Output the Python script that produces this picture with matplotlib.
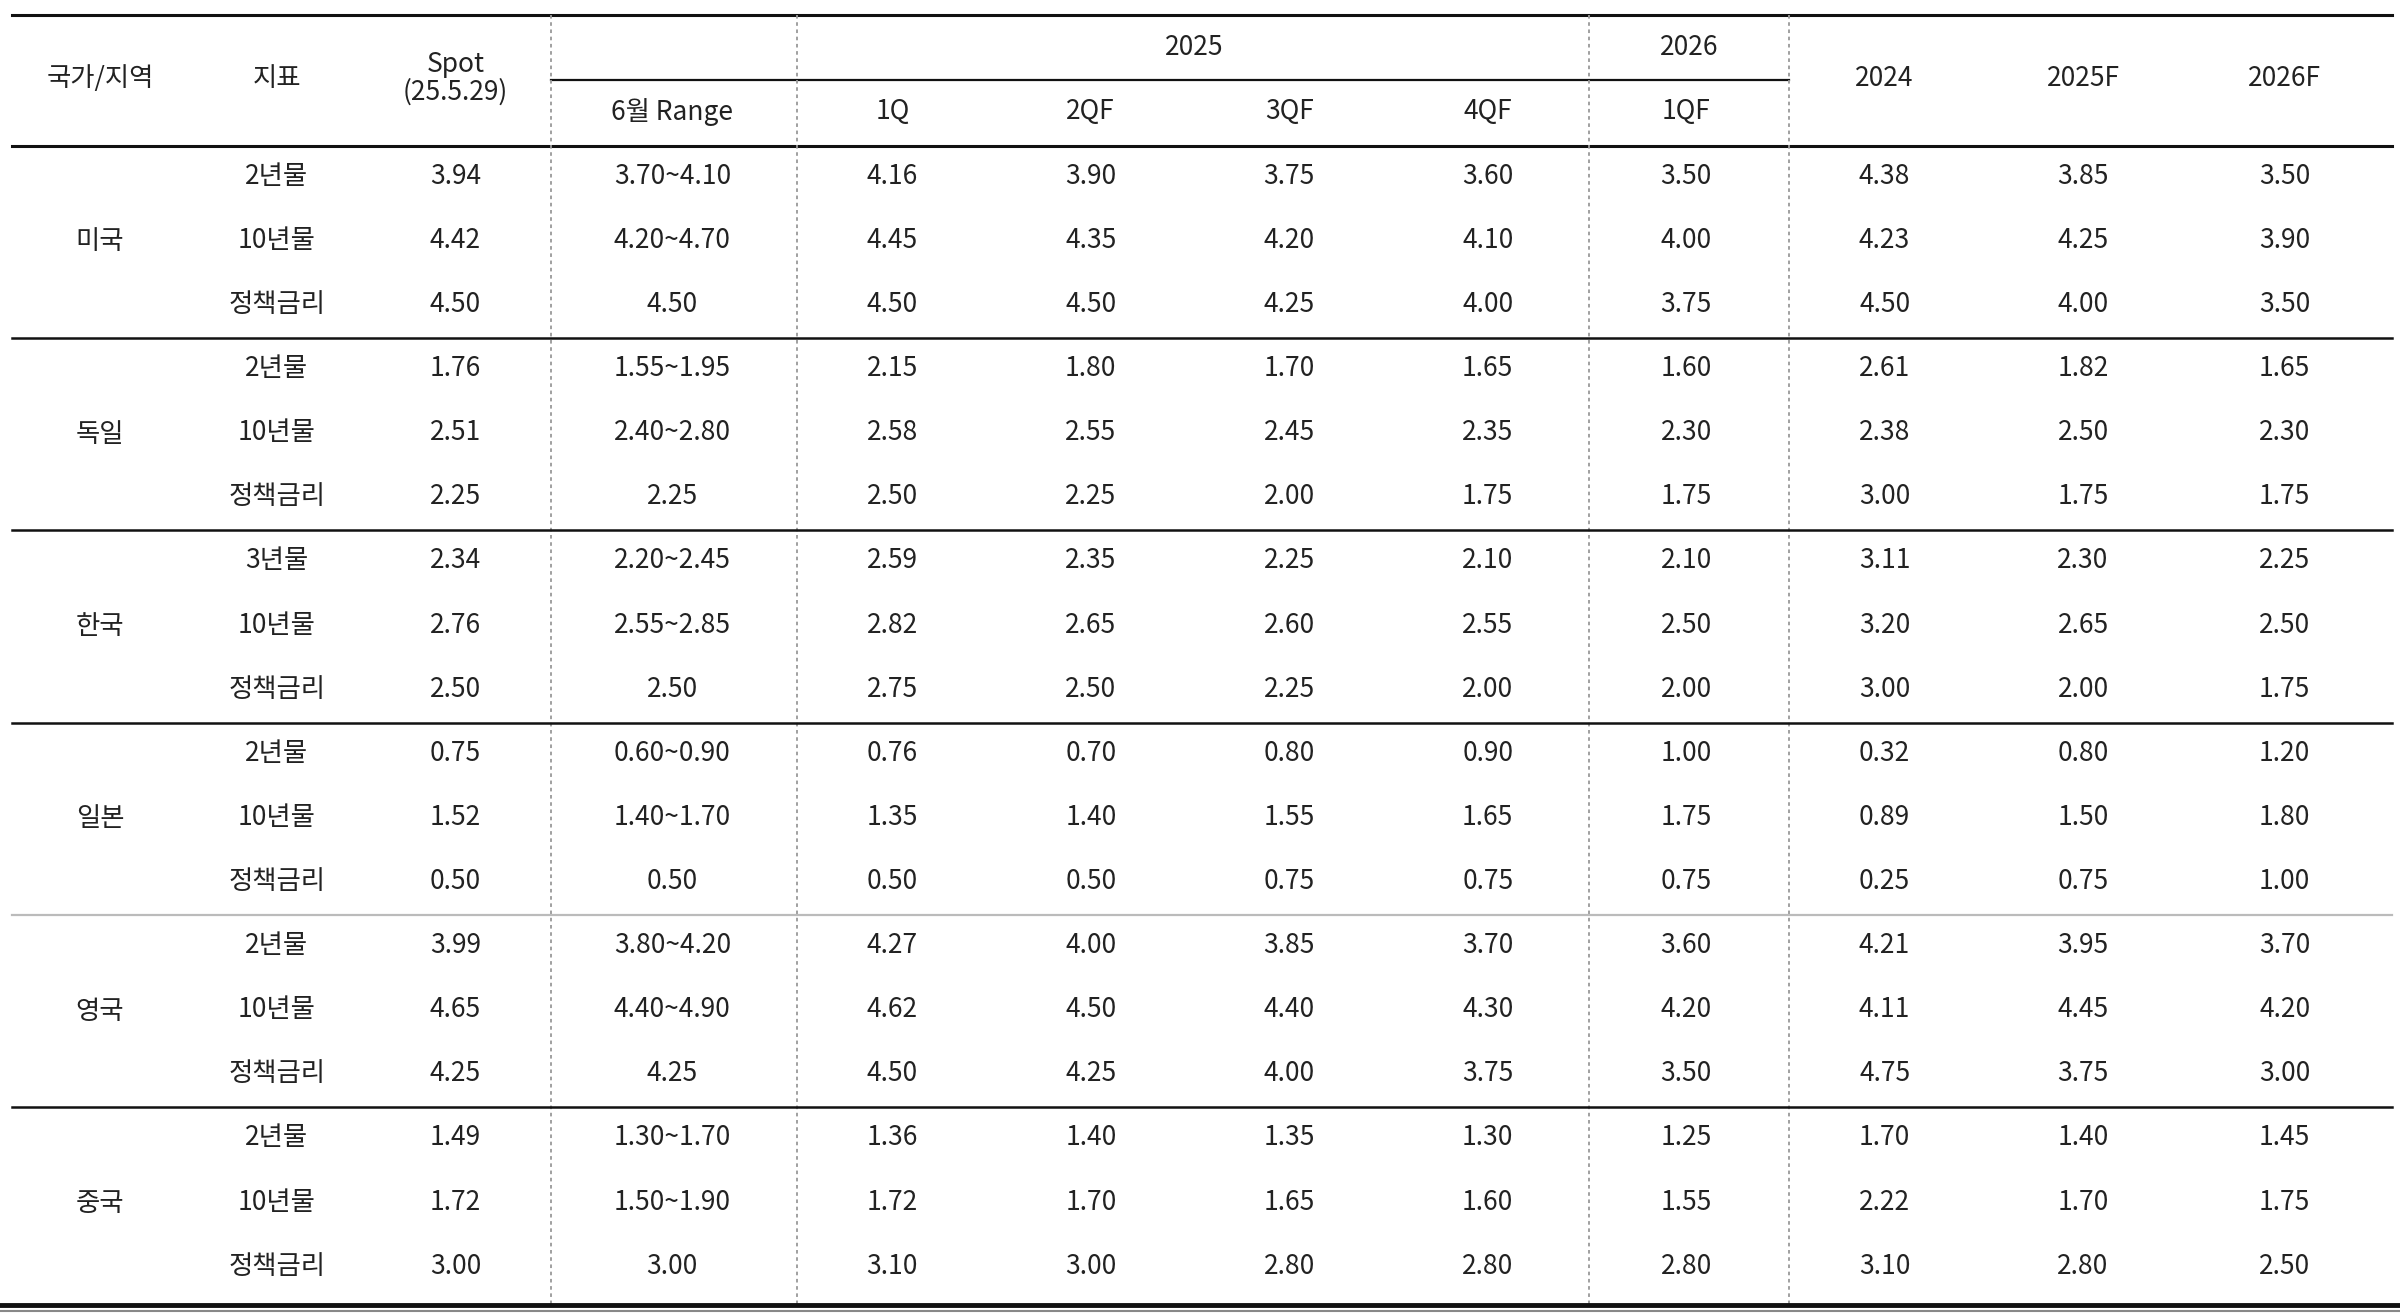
import matplotlib
matplotlib.use("Agg")
import matplotlib.pyplot as plt

countries = ["미국", "독일", "한국", "일본", "영국", "중국"]
indicators = [["2년물", "10년물", "정책금리"], ["2년물", "10년물", "정책금리"],
              ["3년물", "10년물", "정책금리"], ["2년물", "10년물", "정책금리"],
              ["2년물", "10년물", "정책금리"], ["2년물", "10년물", "정책금리"]]
spot = ["3.94","4.42","4.50","1.76","2.51","2.25","2.34","2.76","2.50","0.75","1.52","0.50","3.99","4.65","4.25","1.49","1.72","3.00"]
june_range = ["3.70~4.10","4.20~4.70","4.50","1.55~1.95","2.40~2.80","2.25","2.20~2.45","2.55~2.85","2.50",
              "0.60~0.90","1.40~1.70","0.50","3.80~4.20","4.40~4.90","4.25","1.30~1.70","1.50~1.90","3.00"]
q1_25 = ["4.16","4.45","4.50","2.15","2.58","2.50","2.59","2.82","2.75","0.76","1.35","0.50","4.27","4.62","4.50","1.36","1.72","3.10"]
q2f_25 = ["3.90","4.35","4.50","1.80","2.55","2.25","2.35","2.65","2.50","0.70","1.40","0.50","4.00","4.50","4.25","1.40","1.70","3.00"]
q3f_25 = ["3.75","4.20","4.25","1.70","2.45","2.00","2.25","2.60","2.25","0.80","1.55","0.75","3.85","4.40","4.00","1.35","1.65","2.80"]
q4f_25 = ["3.60","4.10","4.00","1.65","2.35","1.75","2.10","2.55","2.00","0.90","1.65","0.75","3.70","4.30","3.75","1.30","1.60","2.80"]
q1f_26 = ["3.50","4.00","3.75","1.60","2.30","1.75","2.10","2.50","2.00","1.00","1.75","0.75","3.60","4.20","3.50","1.25","1.55","2.80"]
y2024 = ["4.38","4.23","4.50","2.61","2.38","3.00","3.11","3.20","3.00","0.32","0.89","0.25","4.21","4.11","4.75","1.70","2.22","3.10"]
y2025f = ["3.85","4.25","4.00","1.82","2.50","1.75","2.30","2.65","2.00","0.80","1.50","0.75","3.95","4.45","3.75","1.40","1.70","2.80"]
y2026f = ["3.50","3.90","3.50","1.65","2.30","1.75","2.25","2.50","1.75","1.20","1.80","1.00","3.70","4.20","3.00","1.45","1.75","2.50"]

FONT = ["Noto Sans CJK KR", "Noto Sans CJK JP", "Noto Sans CJK SC", "DejaVu Sans"]
fig = plt.figure(figsize=(24, 13.13), dpi=100)
ax = fig.add_axes([0, 0, 1, 1])
ax.set_xlim(0, 1560); ax.set_ylim(856, 0); ax.axis("off")

fs = 19
tc = "#222222"
def T(x, y, s, **k):
    ax.text(x, y, s, ha="center", va="center", fontsize=fs, family=FONT, color=tc, **k)

xl, xr = 8, 1555
# header
ax.plot([xl, xr], [10, 10], color="#111", lw=2.2)
ax.plot([358, 1163], [52, 52], color="#111", lw=1.6)
ax.plot([xl, xr], [95, 95], color="#111", lw=2.2)
T(65, 51, "국가/지역"); T(180, 51, "지표"); T(296, 51, "Spot\n(25.5.29)", linespacing=1.0)
T(776, 31, "2025"); T(1098, 31, "2026")
for x, s in [(437, "6월 Range"), (580, "1Q"), (709, "2QF"), (838, "3QF"), (967, "4QF"), (1096, "1QF")]:
    T(x, 73, s)
for x, s in [(1225, "2024"), (1354, "2025F"), (1485, "2026F")]:
    T(x, 51, s)

# dotted verticals
for x in [358, 518, 1033, 1163]:
    ax.plot([x, x], [10, 851], color="#999", lw=1.3, ls=(0, (2, 2)))

row_h = 41.8
top = 95
cols = [(296, spot), (437, june_range), (580, q1_25), (709, q2f_25), (838, q3f_25),
        (967, q4f_25), (1096, q1f_26), (1225, y2024), (1354, y2025f), (1485, y2026f)]
for g, c in enumerate(countries):
    gy = top + g * 3 * row_h
    T(65, gy + 1.5 * row_h, c)
    for r in range(3):
        i = g * 3 + r
        y = gy + (r + 0.5) * row_h - 1
        T(180, y, indicators[g][r])
        for x, arr in cols:
            T(x, y, arr[i])
    if g < 5:
        yb = gy + 3 * row_h
        if g == 3:
            ax.plot([xl, xr], [yb, yb], color="#bbb", lw=1.6)
        else:
            ax.plot([xl, xr], [yb, yb], color="#111", lw=1.8)
ax.plot([0, 1560], [851, 851], color="#111", lw=3.5)
ax.plot([0, 1560], [855, 855], color="#888", lw=1.5)

fig.savefig("out.png", dpi=100, facecolor="white")
